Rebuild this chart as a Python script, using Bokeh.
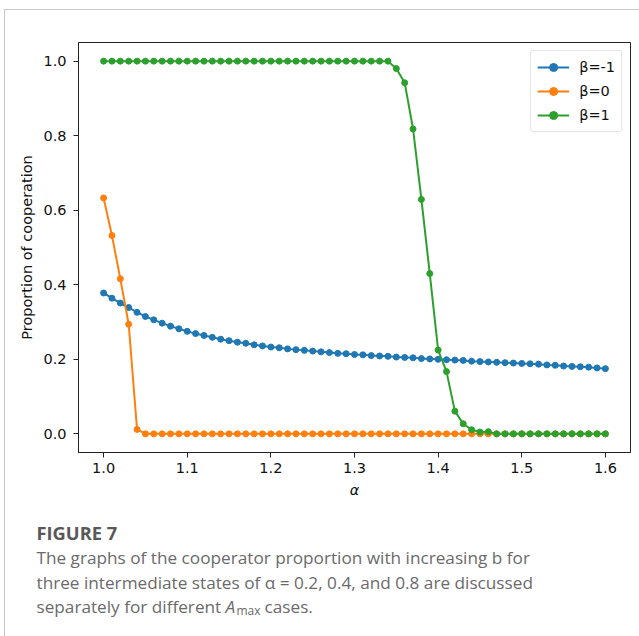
from bokeh.plotting import figure
from bokeh.layouts import column
from bokeh.models import Range1d, FixedTicker, Legend, LegendItem, NumeralTickFormatter
from bokeh.core.properties import value
from bokeh.embed import file_html
from bokeh.resources import INLINE

alpha = [1.00, 1.01, 1.02, 1.03, 1.04, 1.05, 1.06, 1.07, 1.08, 1.09,
         1.10, 1.11, 1.12, 1.13, 1.14, 1.15, 1.16, 1.17, 1.18, 1.19,
         1.20, 1.21, 1.22, 1.23, 1.24, 1.25, 1.26, 1.27, 1.28, 1.29,
         1.30, 1.31, 1.32, 1.33, 1.34, 1.35, 1.36, 1.37, 1.38, 1.39,
         1.40, 1.41, 1.42, 1.43, 1.44, 1.45, 1.46, 1.47, 1.48, 1.49,
         1.50, 1.51, 1.52, 1.53, 1.54, 1.55, 1.56, 1.57, 1.58, 1.59, 1.60]

beta_neg1 = [0.378, 0.364, 0.351, 0.339, 0.326, 0.315, 0.306, 0.297, 0.289, 0.282,
             0.275, 0.269, 0.264, 0.259, 0.254, 0.250, 0.246, 0.243, 0.239, 0.236,
             0.233, 0.231, 0.228, 0.226, 0.224, 0.222, 0.220, 0.218, 0.216, 0.215,
             0.213, 0.212, 0.210, 0.209, 0.208, 0.206, 0.205, 0.204, 0.202, 0.201,
             0.200, 0.199, 0.198, 0.197, 0.195, 0.194, 0.193, 0.192, 0.191, 0.190,
             0.189, 0.188, 0.187, 0.185, 0.184, 0.182, 0.181, 0.180, 0.179, 0.177, 0.175]

beta_0 = [0.633, 0.532, 0.416, 0.294, 0.012, 0.0, 0.0, 0.0, 0.0, 0.0,
          0.0, 0.0, 0.0, 0.0, 0.0, 0.0, 0.0, 0.0, 0.0, 0.0,
          0.0, 0.0, 0.0, 0.0, 0.0, 0.0, 0.0, 0.0, 0.0, 0.0,
          0.0, 0.0, 0.0, 0.0, 0.0, 0.0, 0.0, 0.0, 0.0, 0.0,
          0.0, 0.0, 0.0, 0.0, 0.0, 0.0, 0.0, 0.0, 0.0, 0.0,
          0.0, 0.0, 0.0, 0.0, 0.0, 0.0, 0.0, 0.0, 0.0, 0.0, 0.0]

beta_1 = [1.0, 1.0, 1.0, 1.0, 1.0, 1.0, 1.0, 1.0, 1.0, 1.0,
          1.0, 1.0, 1.0, 1.0, 1.0, 1.0, 1.0, 1.0, 1.0, 1.0,
          1.0, 1.0, 1.0, 1.0, 1.0, 1.0, 1.0, 1.0, 1.0, 1.0,
          1.0, 1.0, 1.0, 1.0, 1.0, 0.980, 0.942, 0.818, 0.629, 0.430,
          0.225, 0.167, 0.061, 0.027, 0.011, 0.005, 0.006, 0.0, 0.0, 0.0,
          0.0, 0.0, 0.0, 0.0, 0.0, 0.0, 0.0, 0.0, 0.0, 0.0, 0.0]

series_labels = ["β=-1", "β=0", "β=1"]
series_colors = ["#1f77b4", "#ff7f0e", "#2ca02c"]
x_ticks = [1.0, 1.1, 1.2, 1.3, 1.4, 1.5, 1.6]
y_ticks = [0.0, 0.2, 0.4, 0.6, 0.8, 1.0]

caption_title = "FIGURE 7"
caption_lines = ["The graphs of the cooperator proportion with increasing b for",
                 "three intermediate states of α = 0.2, 0.4, and 0.8 are discussed",
                 "separately for different"]
caption_sym = "A"
caption_sub = "max"
caption_tail = "cases."

FONT = "DejaVu Sans"

# ---------------- main chart (canvas starts at x=5, y=10) ----------------
p = figure(width=634, height=500, output_backend="svg", toolbar_location=None,
           x_range=Range1d(0.97, 1.63), y_range=Range1d(-0.05, 1.05),
           min_border_left=73, min_border_right=9, min_border_top=32, min_border_bottom=58)
p.background_fill_color = "white"
p.border_fill_color = "white"
p.outline_line_color = "#222222"
p.outline_line_width = 1
p.xgrid.visible = False
p.ygrid.visible = False

for ax in (p.xaxis[0], p.yaxis[0]):
    ax.axis_line_color = "#222222"
    ax.major_tick_line_color = "#222222"
    ax.major_tick_in = 0
    ax.major_tick_out = 5
    ax.minor_tick_line_color = None
    ax.major_label_text_font = FONT
    ax.major_label_text_font_size = "14.5px"
    ax.major_label_text_color = "#111111"
    ax.axis_label_text_font = FONT
    ax.axis_label_text_font_size = "14.5px"
    ax.axis_label_text_color = "#111111"
    ax.formatter = NumeralTickFormatter(format="0.0")

p.xaxis.ticker = FixedTicker(ticks=x_ticks)
p.yaxis.ticker = FixedTicker(ticks=y_ticks)
p.xaxis.axis_label = "α"
p.xaxis.axis_label_text_font_style = "italic"
p.yaxis.axis_label = "Proportion of cooperation"
p.yaxis.axis_label_text_font_style = "normal"
p.xaxis.major_label_standoff = 5
p.yaxis.major_label_standoff = 7
p.xaxis.axis_label_standoff = 6
p.yaxis.axis_label_standoff = 5

items = []
for ys, lab, col in zip([beta_neg1, beta_0, beta_1], series_labels, series_colors):
    ln = p.line(alpha, ys, line_color=col, line_width=2)
    sc = p.scatter(alpha, ys, size=6, fill_color=col, line_color=col)
    items.append(LegendItem(label=lab, renderers=[ln, sc]))

legend = Legend(items=items, location="top_right", margin=8, padding=6, spacing=4,
                glyph_width=32, glyph_height=20, label_standoff=10,
                label_text_font=FONT, label_text_font_size="14.5px",
                label_text_color="#111111",
                border_line_color="#cccccc", border_line_width=1,
                background_fill_color="white", background_fill_alpha=0.8)
if "border_radius" in Legend.properties():
    legend.border_radius = 3
p.add_layout(legend)

# ---------------- caption (pixel-like coordinates, y measured from top) ----------------
CW, CH = 634, 126
c = figure(width=CW, height=CH, output_backend="svg", toolbar_location=None,
           x_range=Range1d(0, CW), y_range=Range1d(CH, 0),
           x_axis_type=None, y_axis_type=None,
           min_border=0, min_border_left=0, min_border_right=0,
           min_border_top=0, min_border_bottom=0)
c.outline_line_color = None
c.background_fill_color = "white"
c.border_fill_color = "white"
for fig in (p, c):
    if "frame_align" in fig.properties():
        fig.frame_align = False

CAP = "Open Sans"
cap_color = "#6a6a6a"
CS = "17.2px"
X0 = 31

c.text(x=[X0], y=[22], text=[caption_title], text_font=value(CAP), text_font_size="18.3px",
       text_font_style="bold", text_color="#585858", text_baseline="alphabetic")
c.text(x=[X0, X0, X0], y=[47, 72, 96], text=caption_lines, text_font=value(CAP),
       text_font_size=CS, text_color=cap_color, text_baseline="alphabetic")
c.text(x=[220], y=[96], text=[caption_sym], text_font=value(CAP), text_font_size=CS,
       text_font_style="italic", text_color=cap_color, text_baseline="alphabetic")
c.text(x=[231], y=[100], text=[caption_sub], text_font=value(CAP), text_font_size="12px",
       text_color=cap_color, text_baseline="alphabetic")
c.text(x=[259], y=[96], text=[caption_tail], text_font=value(CAP), text_font_size=CS,
       text_color=cap_color, text_baseline="alphabetic")

layout = column(p, c, spacing=0,
                styles={"margin-left": "4px", "margin-top": "9px",
                        "border-left": "1px solid #c8c8c8", "border-top": "1px solid #c8c8c8"})

open("out.html", "w").write(file_html(layout, INLINE))
